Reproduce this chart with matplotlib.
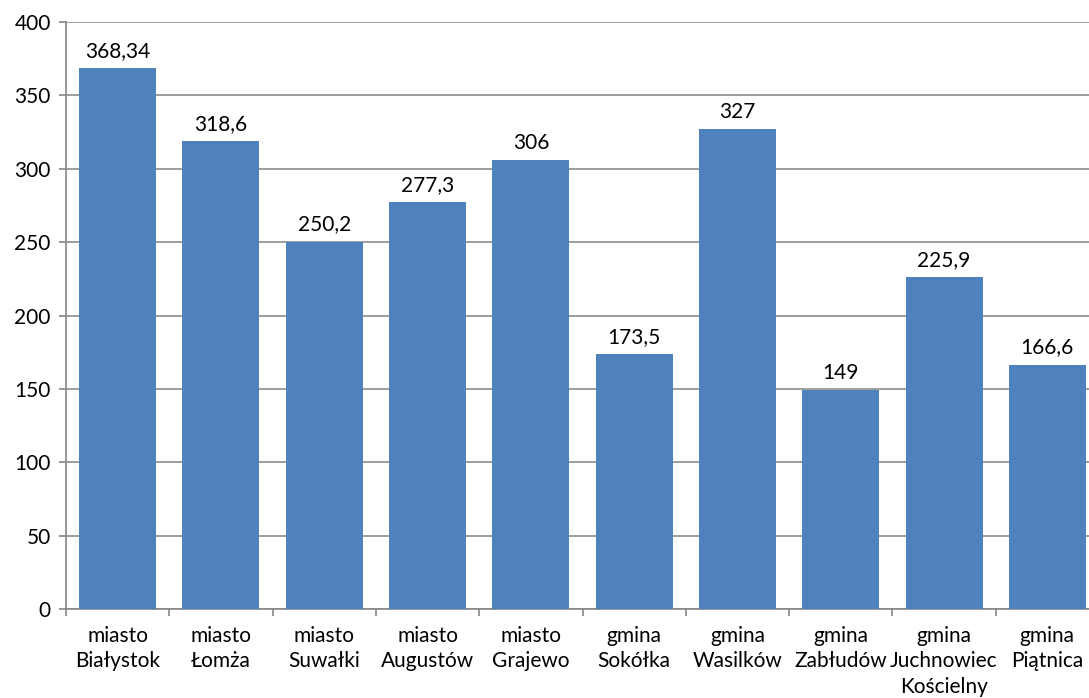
import matplotlib.pyplot as plt
import numpy as np

categories = ['miasto\nBiałystok', 'miasto\nŁomża', 'miasto\nSuwałki', 'miasto\nAugustów',
              'miasto\nGrajewo', 'gmina\nSokółka', 'gmina\nWasilków', 'gmina\nZabłudów',
              'gmina\nJuchnowiec\nKościelny', 'gmina\nPiątnica']
values = [368.34, 318.6, 250.2, 277.3, 306, 173.5, 327, 149, 225.9, 166.6]
value_labels = ['368,34', '318,6', '250,2', '277,3', '306', '173,5', '327', '149', '225,9', '166,6']
yticks = [0, 50, 100, 150, 200, 250, 300, 350, 400]

plt.rcParams['font.family'] = ['Lato', 'DejaVu Sans']
plt.rcParams['font.size'] = 15

fig = plt.figure(figsize=(10.89, 6.98), dpi=100)
# plot area runs slightly past the right edge, as in the original
ax = fig.add_axes([66 / 1089, 89 / 698, 1033 / 1089, 587 / 698])

x = np.arange(len(values))
ax.bar(x, values, width=0.745, color='#4F81BD', zorder=3)

for xi, v, lab in zip(x, values, value_labels):
    ax.text(xi, v + 5, lab, ha='center', va='bottom', fontsize=15, color='black')

ax.set_xlim(-0.5, len(values) - 0.5)
ax.set_ylim(0, 400)
ax.set_yticks(yticks)
ax.set_yticklabels([str(t) for t in yticks])
ax.yaxis.grid(True, color='#8c8c8c', linewidth=1.2, zorder=0)

ax.set_xticks(x)
ax.set_xticklabels(categories, linespacing=1.36)
ax.set_xticks(np.arange(-0.5, len(values)), minor=True)
ax.tick_params(axis='x', which='major', length=0, pad=12)
ax.tick_params(axis='x', which='minor', length=5, color='#868686', width=1.2)
ax.tick_params(axis='y', length=5, color='#868686', width=1.2, pad=6)

for s in ['top', 'right']:
    ax.spines[s].set_visible(False)
for s in ['left', 'bottom']:
    ax.spines[s].set_color('#868686')
    ax.spines[s].set_linewidth(1.2)

fig.savefig('out.png', dpi=100)
